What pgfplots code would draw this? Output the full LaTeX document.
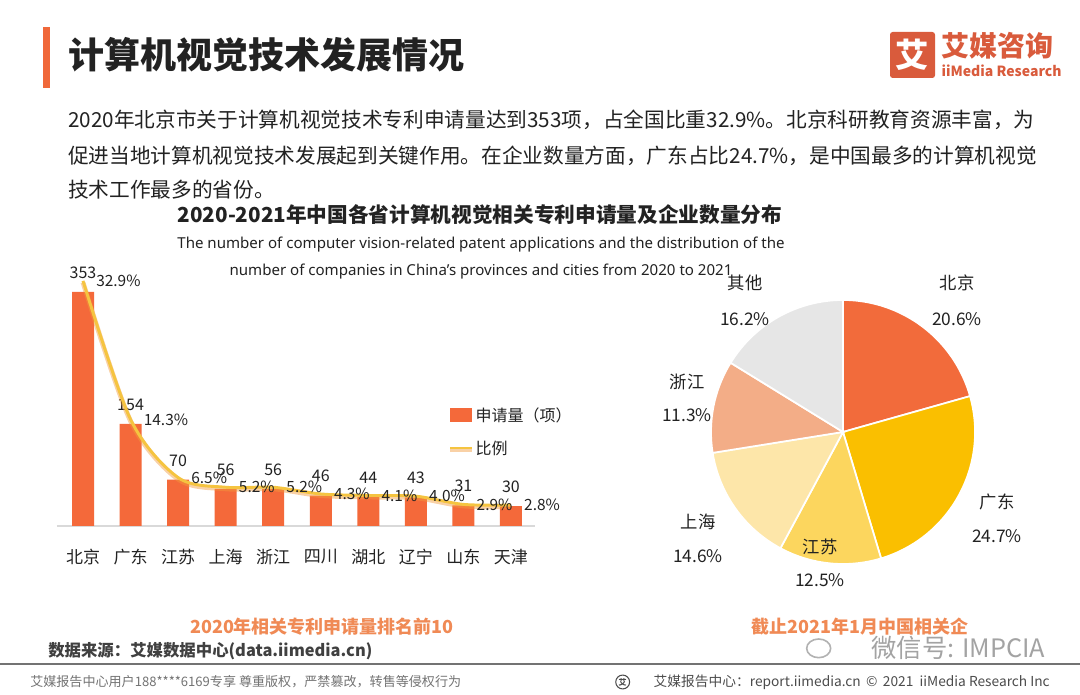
\documentclass[border=0pt]{standalone}
\usepackage{fontspec}
\setmainfont{Noto Sans CJK SC}
\newfontfamily\latin{Noto Sans}
\usepackage{graphicx}
\usepackage{pgfplots}
\pgfplotsset{compat=1.18}
\definecolor{accent}{HTML}{F0683A}
\definecolor{barc}{HTML}{F4693A}
\definecolor{linec}{HTML}{F5C440}
\definecolor{glow}{HTML}{F29A3A}
\definecolor{foot}{HTML}{F08A55}
\definecolor{logo}{HTML}{D95B3C}
\definecolor{pieA}{HTML}{F26B3B}
\definecolor{pieB}{HTML}{FABF00}
\definecolor{pieC}{HTML}{FCD65E}
\definecolor{pieD}{HTML}{FDE6A9}
\definecolor{pieE}{HTML}{F3AD87}
\definecolor{pieF}{HTML}{E6E6E6}
\definecolor{txt}{HTML}{222222}
\begin{document}
\begin{tikzpicture}
\useasboundingbox[fill=white] (0,0) rectangle (810pt,521.25pt);
% header
\fill[accent] (32.25pt,455.25pt) rectangle (37.5pt,501pt);
\node[anchor=west, inner sep=0, font=\fontsize{27}{30}\selectfont\bfseries, text=txt] at (51pt,480pt) {计算机视觉技术发展情况};
% logo
\fill[logo, rounded corners=2pt] (667.5pt,462.75pt) rectangle (701.25pt,497.25pt);
\node[inner sep=0, font=\fontsize{25}{26}\selectfont\bfseries, text=white] at (684.4pt,480pt) {艾};
\node[anchor=west, inner sep=0, font=\fontsize{21}{22}\selectfont\bfseries, text=logo] at (706pt,487pt) {艾媒咨询};
\node[anchor=west, inner sep=0, font=\fontsize{10.5}{11}\selectfont\bfseries, text=logo] at (706pt,468.5pt) {iiMedia Research};
% body text
\begin{scope}[every node/.style={anchor=west, inner sep=0, font=\fontsize{15.5}{18}\selectfont, text=txt}]
\node at (51pt,431.25pt) {2020年北京市关于计算机视觉技术专利申请量达到353项，占全国比重32.9\%。北京科研教育资源丰富，为};
\node at (51pt,404.25pt) {促进当地计算机视觉技术发展起到关键作用。在企业数量方面，广东占比24.7\%，是中国最多的计算机视觉};
\node at (51pt,378.75pt) {技术工作最多的省份。};
\end{scope}
% chart titles
\node[inner sep=0, font=\fontsize{15.5}{17}\selectfont\bfseries, text=txt] at (360pt,360pt) {2020-2021年中国各省计算机视觉相关专利申请量及企业数量分布};
\node[inner sep=0, font=\latin\fontsize{11.3}{12}\selectfont, text=txt] at (360.75pt,337.5pt) {The number of computer vision-related patent applications and the distribution of the};
\node[inner sep=0, font=\latin\fontsize{11.3}{12}\selectfont, text=txt] at (360.75pt,317.25pt) {number of companies in China’s provinces and cities from 2020 to 2021};
% bar chart
\begin{axis}[
  at={(42.75pt,126.75pt)}, anchor=south west,
  width=358.5pt, height=195pt, scale only axis,
  xmin=-0.547, xmax=9.505, ymin=0, ymax=392.2,
  axis x line*=bottom, axis y line=none,
  x axis line style={draw=black!15, line width=0.8pt, -},
  xtick={0,...,9},
  xticklabels={北京,广东,江苏,上海,浙江,四川,湖北,辽宁,山东,天津},
  major tick length=0pt,
  xticklabel style={font=\fontsize{12.75}{14}\selectfont, text=txt, yshift=-14pt},
  ytick=\empty,
  /pgf/number format/assume math mode=true,
  clip=false,
]
\addplot[ybar, bar width=16.5pt, fill=barc, draw=none,
  nodes near coords,
  every node near coord/.append style={font=\fontsize{12}{13}\selectfont, text=txt, yshift=6.5pt}]
  coordinates {(0,353) (1,154) (2,70) (3,56) (4,56) (5,46) (6,44) (7,43) (8,31) (9,30)};
\end{axis}
\begin{axis}[
  at={(42.75pt,126.75pt)}, anchor=south west,
  width=358.5pt, height=195pt, scale only axis,
  xmin=-0.547, xmax=9.505, ymin=0, ymax=34.9,
  hide axis, clip=false,
]
\addplot[smooth, line width=3.6pt, color=glow, opacity=0.45, yshift=-1.2pt, forget plot]
  coordinates {(0,32.9) (1,14.3) (2,6.5) (3,5.2) (4,5.2) (5,4.3) (6,4.1) (7,4.0) (8,2.9) (9,2.8)};
\addplot[smooth, line width=2.2pt, color=linec,
  nodes near coords, point meta=explicit symbolic,
  every node near coord/.append style={anchor=west, xshift=5.5pt, font=\fontsize{11.6}{12}\selectfont, text=txt}]
  coordinates {(0,32.9) [32.9\%] (1,14.3) [14.3\%] (2,6.5) [6.5\%] (3,5.2) [5.2\%] (4,5.2) [5.2\%]
               (5,4.3) [4.3\%] (6,4.1) [4.1\%] (7,4.0) [4.0\%] (8,2.9) [2.9\%] (9,2.8) [2.8\%]};
\end{axis}
% legend
\fill[barc] (337.5pt,204.75pt) rectangle (354pt,215.25pt);
\node[anchor=west, inner sep=0, font=\fontsize{12}{13}\selectfont, text=txt] at (356.5pt,210pt) {申请量（项）};
\draw[glow, opacity=0.45, line width=3.6pt] (337.5pt,184.3pt) -- (354pt,184.3pt);
\draw[linec, line width=2.2pt] (337.5pt,185.25pt) -- (354pt,185.25pt);
\node[anchor=west, inner sep=0, font=\fontsize{12}{13}\selectfont, text=txt] at (356.5pt,185.25pt) {比例};
% pie chart
\begin{axis}[
  at={(632.25pt,197.25pt)}, anchor=center,
  width=198pt, height=198pt, scale only axis,
  xmin=-1, xmax=1, ymin=-1, ymax=1, hide axis, clip=false,
]
\addplot[draw=none, forget plot] coordinates {(0,0)};
\xdef\s{90}
\foreach \v/\c in {20.6/pieA, 24.7/pieB, 12.5/pieC, 14.6/pieD, 11.3/pieE, 16.2/pieF}{
  \pgfmathsetmacro\e{\s-\v*360/99.9}
  \edef\tmp{\noexpand\fill[\c, draw=white, line width=1.3pt] (axis cs:0,0) -- ++(\s:99pt) arc[start angle=\s, end angle=\e, radius=99pt] -- cycle;}
  \tmp
  \xdef\s{\e}
}
\end{axis}
\begin{scope}[every node/.style={inner sep=0, font=\fontsize{13}{14}\selectfont, text=txt}]
\node at (717.75pt,309pt) {北京}; \node at (717.75pt,282pt) {20.6\%};
\node at (747.75pt,144.75pt) {广东}; \node at (747.75pt,119.25pt) {24.7\%};
\node at (615pt,111pt) {江苏}; \node at (615pt,86.25pt) {12.5\%};
\node at (523.5pt,129.75pt) {上海}; \node at (523.5pt,104.25pt) {14.6\%};
\node at (515.25pt,234.75pt) {浙江}; \node at (515.25pt,210pt) {11.3\%};
\node at (558.75pt,309pt) {其他}; \node at (558.75pt,282pt) {16.2\%};
\end{scope}
% footer
\node[inner sep=0, font=\fontsize{13.5}{14}\selectfont\bfseries, text=foot] at (241.5pt,51pt) {2020年相关专利申请量排名前10};
\node[inner sep=0, font=\fontsize{13.5}{14}\selectfont\bfseries, text=foot] at (645pt,51pt) {截止2021年1月中国相关企};
\node[anchor=west, inner sep=0, font=\fontsize{12.3}{13}\selectfont\bfseries, text=black!75] at (36pt,33pt) {数据来源：艾媒数据中心(data.iimedia.cn)};
\node[anchor=east, inner sep=0, font=\fontsize{19}{20}\selectfont, text=black!45, opacity=0.8] at (784pt,35.5pt) {微信号: IMPCIA};
\draw[black!30, line width=1.2pt] (614pt,35pt) ellipse (9pt and 7pt);
\draw[black!55, line width=2.2pt] (0,23.25pt) -- (810pt,23.25pt);
\node[anchor=west, inner sep=0, font=\fontsize{9.8}{11}\selectfont, text=black!55] at (22.5pt,9.75pt) {艾媒报告中心用户188****6169专享 尊重版权，严禁篡改，转售等侵权行为};
\draw[black!70, line width=0.8pt] (467pt,9.75pt) circle (5.2pt);
\node[inner sep=0, font=\fontsize{6}{6}\selectfont\bfseries, text=black!70] at (467pt,9.75pt) {艾};
\node[anchor=east, inner sep=0, font=\fontsize{10.3}{11}\selectfont, text=black!70] at (787.5pt,9.75pt) {艾媒报告中心：report.iimedia.cn \,©\, 2021\ \ iiMedia Research Inc};
\end{tikzpicture}
\end{document}
